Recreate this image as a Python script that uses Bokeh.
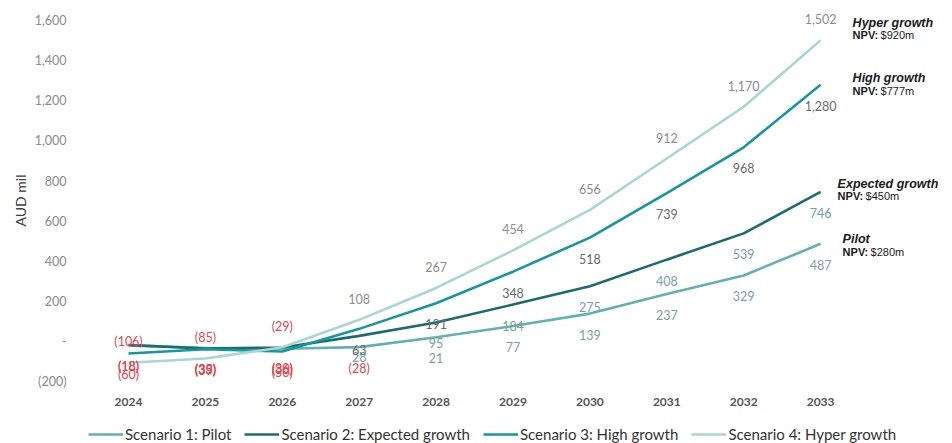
from bokeh.plotting import figure
from bokeh.layouts import column
from bokeh.models import (ColumnDataSource, Legend, LegendItem, FixedTicker, Grid,
                          NumeralTickFormatter, Range1d)
from bokeh.core.properties import value
from bokeh.embed import file_html
from bokeh.resources import INLINE

# ---------------- data ----------------
years = ["2024", "2025", "2026", "2027", "2028", "2029", "2030", "2031", "2032", "2033"]
pilot = [-18, -33, -36, -28, 21, 77, 139, 237, 329, 487]
expected = [-18, -35, -30, 28, 95, 184, 275, 408, 539, 746]
high = [-60, -39, -50, 63, 191, 348, 518, 739, 968, 1280]
hyper = [-106, -85, -29, 108, 267, 454, 656, 912, 1170, 1502]

legend_names = ["Scenario 1: Pilot", "Scenario 2: Expected growth",
                "Scenario 3: High growth", "Scenario 4: Hyper growth"]
short_names = ["Pilot", "Expected growth", "High growth", "Hyper growth"]
npv_values = ["$280m", "$450m", "$777m", "$920m"]
y_ticks = [-200, 0, 200, 400, 600, 800, 1000, 1200, 1400, 1600]

# ---------------- styles ----------------
line_colors = ["#62b1b1", "#1d6b72", "#16979b", "#abd5d5"]
label_colors = ["#7d9fa1", "#76a0a3", "#6a6a6a", "#8c8c8c"]
label_yoff = [21, 21, 21, -21]
neg_color = "#e2474e"
ann_dx = [22, 17, 32, 32]
ann_title_dy = [-5, -8, -7, -17]
ann_npv_dy = [8, 4, 6, -5]

series = [pilot, expected, high, hyper]
xs = list(range(len(years)))

PX_PER_UNIT = 321.0 / 1600.0
y_end = (341 - 10) / PX_PER_UNIT
y_start = -(390 - 341) / PX_PER_UNIT
x_step = 76.9
x_start = -(128 - 88) / x_step
x_end = x_start + (952 - 88) / x_step

p = figure(width=952, height=420, output_backend="svg", toolbar_location=None,
           x_range=Range1d(x_start, x_end), y_range=Range1d(y_start, y_end),
           min_border_left=88, min_border_right=0, min_border_top=10, min_border_bottom=30)
p.outline_line_color = None
for g in p.center:
    if isinstance(g, Grid):
        g.visible = False
p.background_fill_color = "white"
p.border_fill_color = "white"

# x axis
p.xaxis.ticker = FixedTicker(ticks=xs)
p.xaxis.major_label_overrides = {i: y for i, y in enumerate(years)}
p.xaxis.axis_line_color = None
p.xaxis.major_tick_line_color = None
p.xaxis.minor_tick_line_color = None
p.xaxis.major_label_standoff = 1
p.xaxis.major_label_text_font = "Lato"
p.xaxis.major_label_text_font_size = "12px"
p.xaxis.major_label_text_font_style = "bold"
p.xaxis.major_label_text_color = "#555555"

# y axis
p.yaxis.ticker = FixedTicker(ticks=y_ticks)
p.yaxis.formatter = NumeralTickFormatter(format="(0,0)")
p.yaxis.major_label_overrides = {0: "-"}
p.yaxis.axis_line_color = None
p.yaxis.major_tick_line_color = None
p.yaxis.minor_tick_line_color = None
p.yaxis.major_label_standoff = 16
p.yaxis.major_label_text_font = "Lato"
p.yaxis.major_label_text_font_size = "12.5px"
p.yaxis.major_label_text_color = "#8a8a8a"
p.yaxis.axis_label = "AUD mil"
p.yaxis.axis_label_text_font = "Lato"
p.yaxis.axis_label_text_font_size = "14px"
p.yaxis.axis_label_text_font_style = "normal"
p.yaxis.axis_label_text_color = "#404040"
p.yaxis.axis_label_standoff = 3

# lines
for vals, col in zip(series, line_colors):
    p.line(xs, vals, line_color=col, line_width=2.6)


def fmt(v):
    return "({:,})".format(-v) if v < 0 else "{:,}".format(v)


# data labels
lx, ly, lt, lc, lo = [], [], [], [], []
for vals, col, off in zip(series, label_colors, label_yoff):
    for x, v in zip(xs, vals):
        lx.append(x)
        ly.append(v)
        lt.append(fmt(v))
        lc.append(neg_color if v < 0 else col)
        lo.append(off)
src = ColumnDataSource(dict(x=lx, y=ly, t=lt, c=lc, o=lo))
p.text(x="x", y="y", text="t", text_color="c", y_offset="o", source=src,
       text_align="center", text_baseline="middle", text_font=value("Lato"),
       text_font_size="12.5px")

# right-hand annotations
last = len(xs) - 1
ends = [s[last] for s in series]
tsrc = ColumnDataSource(dict(x=[last] * 4, y=ends, t=short_names, dx=ann_dx, dy=ann_title_dy))
p.text(x="x", y="y", text="t", x_offset="dx", y_offset="dy", source=tsrc,
       text_align="left", text_baseline="middle", text_font=value("Liberation Sans"),
       text_font_size="12.5px", text_font_style="bold italic", text_color="#1a1a1a")
nsrc = ColumnDataSource(dict(x=[last] * 4, y=ends, t=["NPV:"] * 4, v=npv_values,
                             dx=ann_dx, dx2=[d + 28 for d in ann_dx], dy=ann_npv_dy))
p.text(x="x", y="y", text="t", x_offset="dx", y_offset="dy", source=nsrc,
       text_align="left", text_baseline="middle", text_font=value("Liberation Sans"),
       text_font_size="11px", text_font_style="bold", text_color="#1a1a1a")
p.text(x="x", y="y", text="v", x_offset="dx2", y_offset="dy", source=nsrc,
       text_align="left", text_baseline="middle", text_font=value("Liberation Sans"),
       text_font_size="11px", text_color="#1a1a1a")

# ---------------- legend strip ----------------
pl = figure(width=952, height=23, output_backend="svg", toolbar_location=None,
            x_range=Range1d(x_start, x_end), y_range=Range1d(100000, 100001),
            x_axis_location=None, y_axis_location=None, min_border=0)
pl.outline_line_color = None
for g in pl.center:
    if isinstance(g, Grid):
        g.visible = False
pl.background_fill_color = "white"
pl.border_fill_color = "white"
# same series, drawn outside this strip's visible range; they only feed the legend glyphs
leg_renderers = [pl.line(xs, vals, line_color=c, line_width=2.6)
                 for vals, c in zip(series, line_colors)]
legend = Legend(items=[LegendItem(label=n, renderers=[r]) for n, r in zip(legend_names, leg_renderers)],
                orientation="horizontal", location=(0, 0))
legend.label_text_font = "Lato"
legend.label_text_font_size = "15px"
legend.label_text_color = "#333333"
legend.glyph_width = 35
legend.glyph_height = 18
legend.label_height = 18
legend.label_standoff = 2
legend.spacing = 13
legend.padding = 0
legend.margin = 0
legend.border_line_color = None
legend.background_fill_alpha = 0
pl.add_layout(legend, "center")

layout = column(p, pl, spacing=0)
open("out.html", "w").write(file_html(layout, INLINE))
